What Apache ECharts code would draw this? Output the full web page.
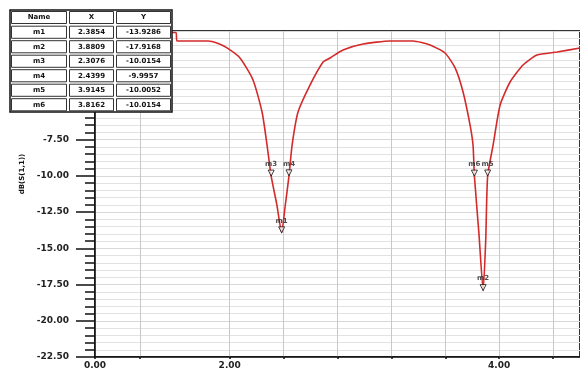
<!DOCTYPE html>
<html><head><meta charset="utf-8">
<script src="https://cdn.jsdelivr.net/npm/echarts@6/dist/echarts.min.js"></script>
<style>html,body{margin:0;padding:0;background:#fff}#c{width:580px;height:371px}</style>
</head><body><div id="c"></div>
<script>
// Curve S(1,1) in dB vs frequency
const freq = [1.00, 1.60, 1.609, 1.70, 1.839, 1.91, 1.980, 2.076, 2.173, 2.240, 2.277, 2.3076, 2.35, 2.3854, 2.41, 2.4399, 2.463, 2.507, 2.596, 2.693, 2.745, 2.841, 2.990, 3.190, 3.361, 3.487, 3.598, 3.673, 3.732, 3.784, 3.806, 3.8162, 3.85, 3.8809, 3.90, 3.9145, 3.955, 4.007, 4.081, 4.177, 4.281, 4.430, 4.601];
const dbS11 = [-0.10, -0.10, -0.69, -0.69, -0.69, -0.85, -1.17, -1.86, -3.38, -5.59, -7.87, -10.0154, -12.00, -13.9286, -12.20, -9.9957, -7.87, -5.59, -3.73, -2.14, -1.86, -1.31, -0.90, -0.69, -0.69, -0.97, -1.52, -2.55, -4.21, -6.49, -7.87, -10.0154, -14.00, -17.9168, -14.50, -10.0052, -7.87, -5.11, -3.52, -2.35, -1.66, -1.45, -1.17];

const markerNames = ['m1', 'm2', 'm3', 'm4', 'm5', 'm6'];
const markerX = [2.3854, 3.8809, 2.3076, 2.4399, 3.9145, 3.8162];
const markerY = [-13.9286, -17.9168, -10.0154, -9.9957, -10.0052, -10.0154];
const markerXText = ['2.3854', '3.8809', '2.3076', '2.4399', '3.9145', '3.8162'];
const markerYText = ['-13.9286', '-17.9168', '-10.0154', '-9.9957', '-10.0052', '-10.0154'];

const xTickValues = [1.0, 1.333, 2.0, 2.4, 2.8, 3.2, 3.6, 4.0, 4.4];
const xLabelValues = [1.0, 2.0, 4.0];
const xTickLabels = ['0.00', '2.00', '4.00'];
const yAxisTitle = 'dB(S(1,1))';

const chart = echarts.init(document.getElementById('c'));
const FONT = 'DejaVu Sans';

// table graphics
const colX = [10, 68, 115, 172];
const rowTop = 10, headH = 15, rowH = 14.5;
const g = [];
g.push({type: 'rect', z: 100, shape: {x: colX[0], y: rowTop, width: colX[3] - colX[0], height: headH + rowH * 6}, style: {fill: '#fff', stroke: '#111', lineWidth: 1.5}});
const heads = ['Name', 'X', 'Y'];
for (let c = 0; c < 3; c++) {
  g.push({type: 'rect', z: 101, shape: {x: colX[c] + 1.5, y: rowTop + 1.5, width: colX[c + 1] - colX[c] - 3, height: headH - 3}, style: {fill: '#fff', stroke: '#333', lineWidth: 1}});
  g.push({type: 'text', z: 102, style: {text: heads[c], x: (colX[c] + colX[c + 1]) / 2, y: rowTop + headH / 2, align: 'center', verticalAlign: 'middle', font: 'bold 7px ' + FONT, fill: '#111'}});
}
for (let r = 0; r < 6; r++) {
  const y0 = rowTop + headH + r * rowH;
  const vals = [markerNames[r], markerXText[r], markerYText[r]];
  for (let c = 0; c < 3; c++) {
    g.push({type: 'rect', z: 101, shape: {x: colX[c] + 1.5, y: y0 + 1.2, width: colX[c + 1] - colX[c] - 3, height: rowH - 2.4}, style: {fill: '#fff', stroke: '#333', lineWidth: 1}});
    g.push({type: 'text', z: 102, style: {text: vals[c], x: (colX[c] + colX[c + 1]) / 2, y: y0 + rowH / 2, align: 'center', verticalAlign: 'middle', font: 'bold 7px ' + FONT, fill: '#111'}});
  }
}
g.push({type: 'text', z: 50, x: 22, y: 174, rotation: Math.PI / 2, style: {text: yAxisTitle, align: 'center', verticalAlign: 'middle', font: 'bold 7px ' + FONT, fill: '#111'}});

chart.setOption({
  animation: false,
  backgroundColor: '#fff',
  grid: {left: 95, top: 31, width: 485, bottom: 14, show: true, borderColor: '#333', borderWidth: 2, backgroundColor: 'transparent'},
  xAxis: {
    type: 'value', min: 1.0, max: 4.6, position: 'bottom',
    axisLine: {show: true, onZero: false, lineStyle: {color: '#111', width: 1.5}},
    axisTick: {show: true, inside: false, customValues: xTickValues, length: 2, lineStyle: {color: '#111', width: 1.5}},
    axisLabel: {customValues: xLabelValues, formatter: v => { const i = xLabelValues.findIndex(t => Math.abs(t - v) < 1e-6); return i >= 0 ? xTickLabels[i] : ''; }, fontFamily: FONT, fontSize: 9, fontWeight: 'bold', color: '#222', margin: 4},
    splitLine: {show: true, lineStyle: {color: '#c8c8c8', width: 1}}
  },
  yAxis: {
    type: 'value', min: -22.5, max: 0, interval: 2.5,
    axisLine: {show: true, onZero: false, lineStyle: {color: '#111', width: 1.5}},
    axisTick: {show: true, length: 19, lineStyle: {color: '#111', width: 1.5}},
    minorTick: {show: true, splitNumber: 5, length: 10, lineStyle: {color: '#111', width: 1.5}},
    axisLabel: {formatter: v => v.toFixed(2), fontFamily: FONT, fontSize: 9, fontWeight: 'bold', color: '#222', margin: 26},
    splitLine: {show: true, lineStyle: {color: '#d8d8d8', width: 1}},
    minorSplitLine: {show: true, lineStyle: {color: '#e2e2e2', width: 1}}
  },
  graphic: g,
  series: [
    {type: 'line', data: freq.map((f, i) => [f, dbS11[i]]), showSymbol: false, smooth: 0.2, lineStyle: {color: '#d42a2a', width: 1.6}, z: 3},
    {type: 'scatter', data: markerX.map((x, i) => [x, markerY[i], markerNames[i]]), symbol: 'triangle', symbolRotate: 180, symbolSize: 6, symbolOffset: [0, -3],
      itemStyle: {color: '#fff', borderColor: '#111', borderWidth: 1}, z: 5,
      label: {show: true, formatter: p => p.data[2], position: 'top', distance: 2, fontFamily: FONT, fontSize: 7, fontWeight: 'bold', color: '#222'}}
  ]
});
</script></body></html>
